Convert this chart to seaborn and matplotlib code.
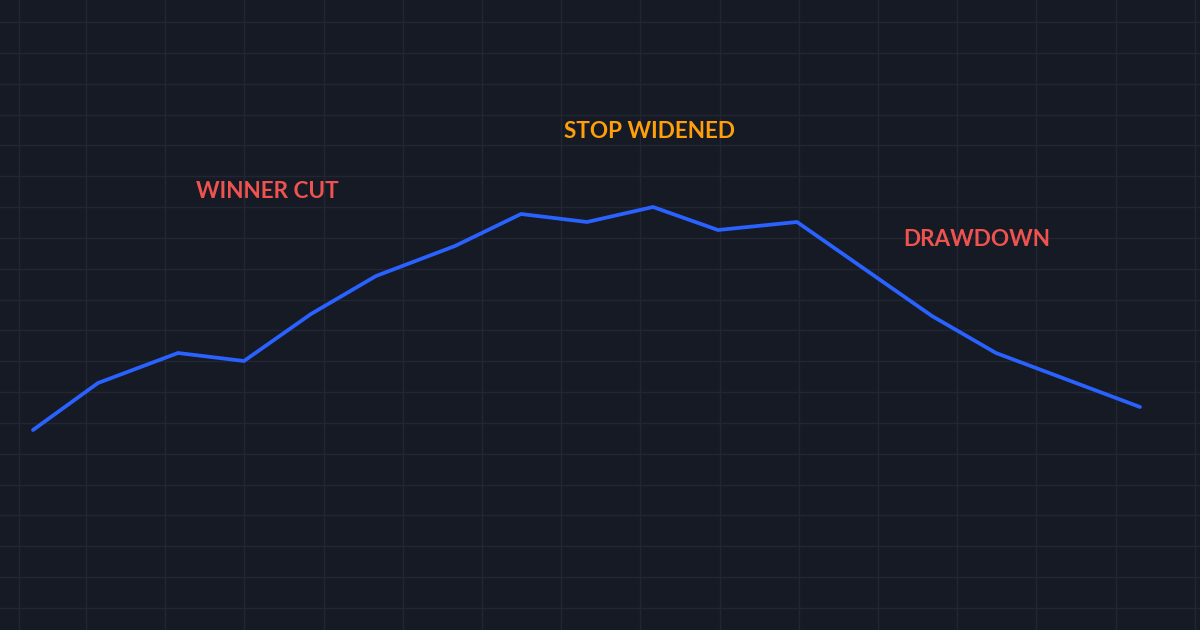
import numpy as np
import pandas as pd
import matplotlib.pyplot as plt
import seaborn as sns

# Equity curve (x = bar position, y = equity level)
bar_x = [33, 98, 178, 244, 311, 376, 455, 521, 587, 653, 718, 797, 932, 996, 1140]
equity = [200, 247, 277, 269, 316, 354, 384, 416, 408, 423, 400, 408, 314, 277, 223]

# Annotations: label, x, y, colour
labels = ['WINNER CUT', 'STOP WIDENED', 'DRAWDOWN']
label_x = [267, 650, 977]
label_y = [438, 499, 391]
label_colors = ['#ef5350', '#ff9f0a', '#ef5350']

df = pd.DataFrame({'x': bar_x, 'equity': equity})

bg = '#161a25'
grid_col = '#222632'

sns.set_style('dark', rc={
    'axes.facecolor': bg,
    'figure.facecolor': bg,
    'grid.color': grid_col,
})
plt.rcParams['font.family'] = ['Lato', 'DejaVu Sans']

fig = plt.figure(figsize=(12, 6.3), dpi=100)
ax = fig.add_axes([0, 0, 1, 1])
ax.set_facecolor(bg)

sns.lineplot(data=df, x='x', y='equity', ax=ax, color='#2962ff',
             linewidth=2.7, solid_capstyle='round', solid_joinstyle='round')

ax.set_xlim(0, 1200)
ax.set_ylim(0, 630)

# background grid
ax.set_xticks([19] + list(86 + 79.2 * np.arange(15)))
ax.set_yticks(608 - 30.84 * np.arange(20))
ax.grid(True, color=grid_col, linewidth=1.0)
ax.tick_params(length=0, labelbottom=False, labelleft=False)
ax.set_xlabel('')
ax.set_ylabel('')
for s in ax.spines.values():
    s.set_visible(False)

for txt, tx, ty, c in zip(labels, label_x, label_y, label_colors):
    ax.text(tx, ty, txt, color=c, fontsize=16.2, fontweight='bold',
            ha='center', va='center')

fig.savefig('out.png', dpi=100, facecolor=bg)
